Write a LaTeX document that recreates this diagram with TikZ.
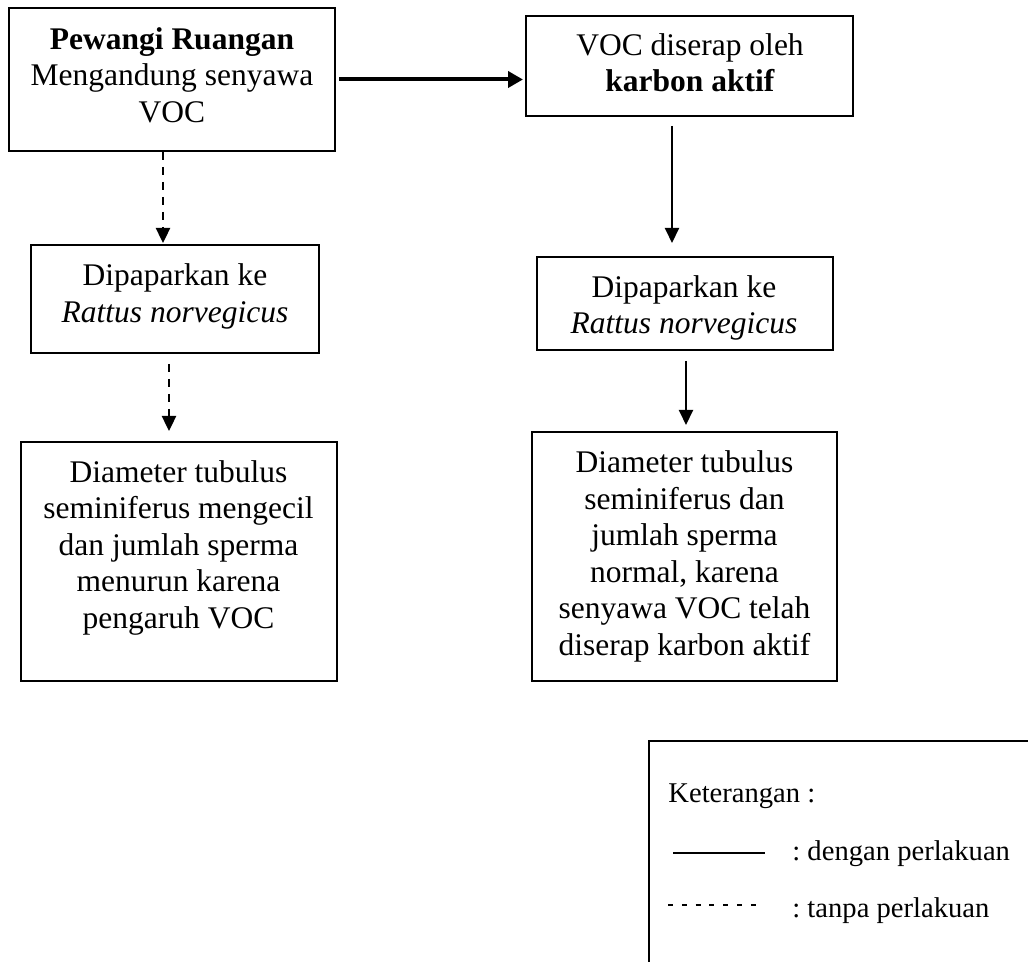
\documentclass[tikz,border=0pt]{standalone}
\usepackage{fontspec}
\setmainfont{Liberation Serif}
\usetikzlibrary{arrows.meta}
\frenchspacing
\begin{document}
\begin{tikzpicture}[x=0.5pt,y=-0.5pt,
  box/.style={draw=black,line width=1pt,rectangle,inner sep=0pt},
  txt/.style={inner sep=0pt,align=center,font={\fontsize{15.75pt}{18.25pt}\selectfont}},
  legtxt/.style={inner sep=0pt,anchor=base west,font={\fontsize{14.3pt}{17pt}\selectfont}},
  solidarrow/.style={line width=1pt,-{Triangle[length=7.5pt,width=7pt]}},
  dasharrow/.style={line width=1.2pt,dash pattern=on 4pt off 3.5pt,-{Triangle[length=7.5pt,width=7pt]}},
  thickarrow/.style={line width=2pt,-{Triangle[length=7.5pt,width=8pt]}}
]
\useasboundingbox (0,0) rectangle (1028,962);

% boxes
\node[box,minimum width=163pt,minimum height=71.5pt] (b1) at (172,79.5) {};
\node[box,minimum width=163.5pt,minimum height=50pt] (b2) at (689.5,66) {};
\node[box,minimum width=144pt,minimum height=54pt] (b3) at (175,299) {};
\node[box,minimum width=148pt,minimum height=46.5pt] (b4) at (685,303.5) {};
\node[box,minimum width=158pt,minimum height=119.5pt] (b5) at (179,561.5) {};
\node[box,minimum width=152.5pt,minimum height=124.5pt] (b6) at (684.5,556.5) {};

% texts
\node[txt] (t1) at (172,75.2) {\textbf{Pewangi Ruangan}\\Mengandung senyawa\\VOC};
\node[txt] (t2) at (690,62.8) {VOC diserap oleh\\\textbf{karbon aktif}};
\node[txt] (t3) at (175,296.3) {Dipaparkan ke\\\textit{Rattus norvegicus}};
\node[txt] (t4) at (684,307.8) {Dipaparkan ke\\\textit{Rattus norvegicus}};
\node[txt] (t5) at (178.5,547.8) {Diameter tubulus\\seminiferus mengecil\\dan jumlah sperma\\menurun karena\\pengaruh VOC};
\node[txt] (t6) at (684.5,556.3) {Diameter tubulus\\seminiferus dan\\jumlah sperma\\normal, karena\\senyawa VOC telah\\diserap karbon aktif};

% connectors
\draw[thickarrow,shorten <=1.5pt,shorten >=1pt] (b1.east) -- (b1.east -| b2.west);
\draw[dasharrow,shorten >=0.5pt] (b1.south -| 163,0) -- (b3.north -| 163,0);
\draw[dasharrow,shorten <=5pt,shorten >=5pt] (b3.south -| 169,0) -- (b5.north -| 169,0);
\draw[solidarrow,shorten <=4.5pt,shorten >=6.5pt] (b2.south -| 672,0) -- (b4.north -| 672,0);
\draw[solidarrow,shorten <=5pt,shorten >=3pt] (b4.south -| 686,0) -- (b6.north -| 686,0);

% legend
\coordinate (lgTR) at (1040,741);
\coordinate (lgTL) at (649,741);
\coordinate (lgBL) at (649,975);
\draw[line width=1pt] (lgTR) -- (lgTL) -- (lgBL);
\node[legtxt] (lk) at (668,802) {Keterangan :};
\coordinate (ls1) at (673,853);
\coordinate (ls2) at (765,853);
\draw[line width=0.7pt] (ls1) -- (ls2);
\node[legtxt] (ld) at (792,860) {: dengan perlakuan};
\coordinate (ld1) at (668,905);
\coordinate (ld2) at (757,905);
\draw[line width=0.7pt,dash pattern=on 2.5pt off 4.4pt] (ld1) -- (ld2);
\node[legtxt] (lt) at (792,917) {: tanpa perlakuan};
\end{tikzpicture}
\end{document}
